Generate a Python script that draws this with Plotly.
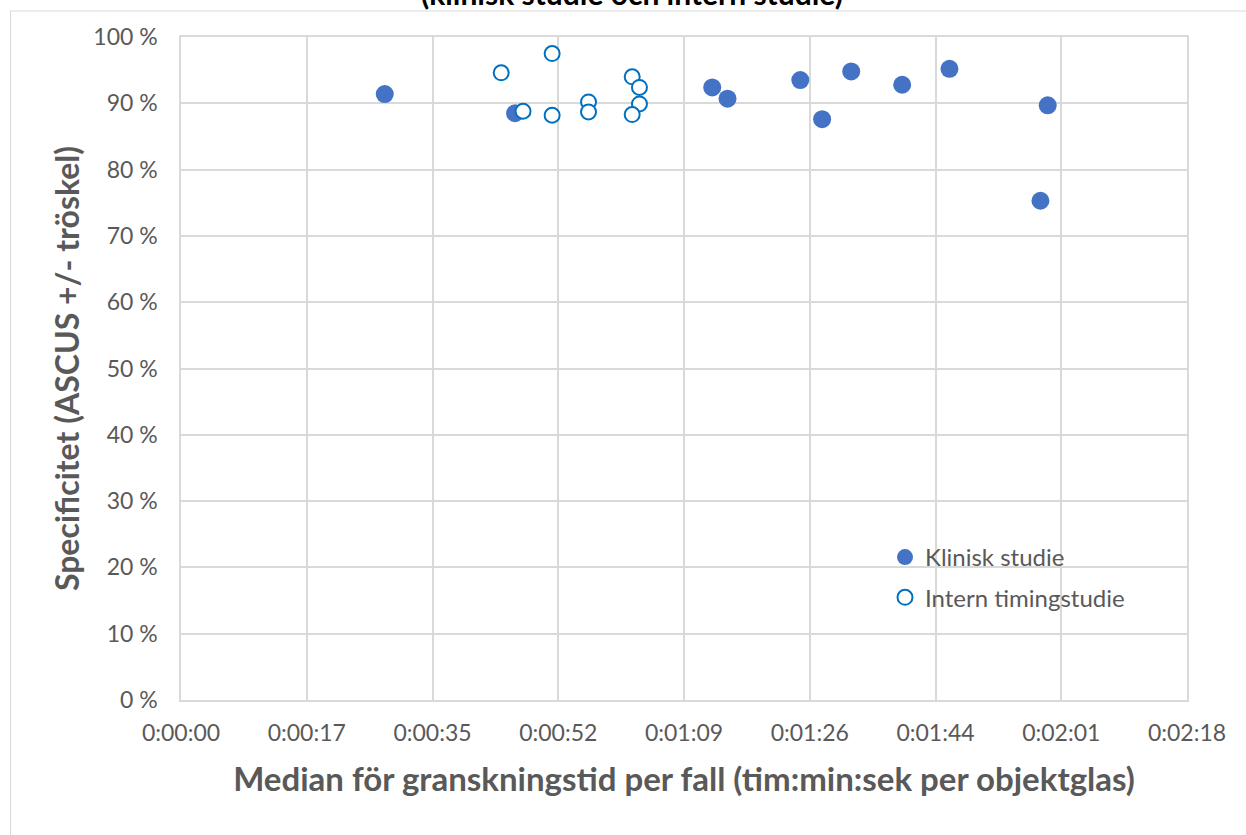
import plotly.graph_objects as go

# ---- data (seconds, percent) ----
klinisk_x = [28.0, 45.9, 73.0, 75.1, 85.1, 88.1, 92.1, 99.1, 105.6, 119.1, 118.1]
klinisk_y = [91.4, 88.5, 92.4, 90.7, 93.5, 87.6, 94.8, 92.8, 95.2, 89.7, 75.3]

intern_x = [44.0, 51.0, 47.0, 51.0, 56.0, 56.0, 62.0, 63.0, 63.0, 62.0]
intern_y = [94.6, 97.5, 88.8, 88.2, 90.2, 88.7, 94.0, 92.4, 89.9, 88.3]

x_tickvals = [0, 17.28, 34.56, 51.84, 69.12, 86.4, 103.68, 120.96, 138.24]
x_ticktext = ["0:00:00", "0:00:17", "0:00:35", "0:00:52", "0:01:09",
              "0:01:26", "0:01:44", "0:02:01", "0:02:18"]
y_tickvals = [0, 10, 20, 30, 40, 50, 60, 70, 80, 90, 100]
y_ticktext = [f"{v} %" for v in y_tickvals]

title_text = "(klinisk studie och intern studie)"
x_title = "Median för granskningstid per fall (tim:min:sek per objektglas)"
y_title = "Specificitet (ASCUS +/- tröskel)"

FONT = "Lato"
GRID = "#D9D9D9"
TXT = "#595959"

fig = go.Figure()
fig.add_trace(go.Scatter(
    x=klinisk_x, y=klinisk_y, mode="markers", name="Klinisk studie",
    legendgroup="a",
    marker=dict(size=18, color="#4472C4", line=dict(width=0)),
))
fig.add_trace(go.Scatter(
    x=intern_x, y=intern_y, mode="markers", name="Intern timingstudie",
    legendgroup="b",
    marker=dict(size=15, color="white", line=dict(width=2, color="#0070C0")),
))

ml, mr, mt, mb = 181, 59, 37, 135
W, H = 1246, 835
pw, ph = W - ml - mr, H - mt - mb

def px2paper_x(px):
    return (px - ml) / pw

def py2paper_y(py):
    return (H - mb - py) / ph

fig.update_layout(
    width=W, height=H,
    margin=dict(l=ml, r=mr, t=mt, b=mb),
    paper_bgcolor="white", plot_bgcolor="white",
    font=dict(family=FONT, color=TXT, size=23),
    title=dict(text="<b>" + title_text + "</b>", font=dict(family=FONT, size=30, color="black"),
               x=632 / W, xanchor="center", xref="container",
               y=1 - 5 / H, yanchor="bottom", yref="container"),
    showlegend=True,
    legend=dict(x=px2paper_x(885), y=py2paper_y(535), xanchor="left", yanchor="top",
                bgcolor="rgba(0,0,0,0)", font=dict(family=FONT, size=24, color=TXT),
                traceorder="grouped", tracegroupgap=6, itemsizing="trace"),
    shapes=[dict(type="rect", xref="paper", yref="paper",
                 x0=px2paper_x(10.5), x1=px2paper_x(1300),
                 y0=py2paper_y(900), y1=py2paper_y(11),
                 line=dict(color=GRID, width=1), fillcolor="rgba(0,0,0,0)", layer="below")],
)
fig.update_xaxes(
    range=[0, 138.24], tickvals=x_tickvals, ticktext=x_ticktext,
    showgrid=True, gridcolor=GRID, gridwidth=1.5,
    showline=True, linecolor=GRID, linewidth=1.5, mirror=True,
    zeroline=False, ticks="", ticklabelstandoff=12,
    tickfont=dict(family=FONT, size=23, color=TXT),
    title=dict(text="<b>" + x_title + "</b>", font=dict(family=FONT, size=33, color=TXT), standoff=23),
)
fig.update_yaxes(
    range=[0, 100], tickvals=y_tickvals, ticktext=y_ticktext,
    showgrid=True, gridcolor=GRID, gridwidth=1.5,
    showline=True, linecolor=GRID, linewidth=1.5, mirror=True,
    zeroline=False, ticks="", ticklabelstandoff=17,
    tickfont=dict(family=FONT, size=23, color=TXT),
    title=dict(text="<b>" + y_title + "</b>", font=dict(family=FONT, size=32, color=TXT), standoff=4),
)

fig.write_html("out.html", config={"displayModeBar": False},
               post_script="document.body.style.margin='0px';document.body.style.overflow='hidden';")
